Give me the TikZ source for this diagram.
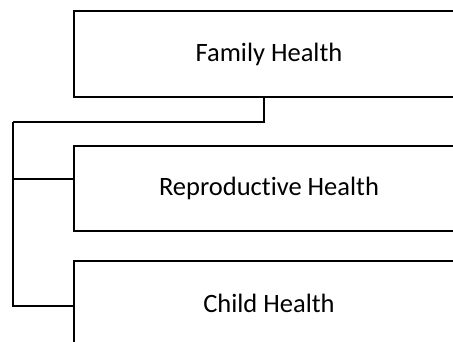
\documentclass[tikz,border=0pt]{standalone}
\usepackage{fontspec}
\setmainfont{Carlito}[Ligatures=NoCommon]
\begin{document}
\begin{tikzpicture}[x=1pt,y=-1pt,
  unitbox/.style={rectangle, minimum width=390pt, minimum height=85.5pt,
    inner sep=0pt, font=\fontsize{26.5}{30}\selectfont},
  frame/.style={draw=black, line width=2pt},
  tree/.style={draw=black, line width=2pt, line join=miter}]
  \useasboundingbox (0,0) rectangle (453,341);
  \clip (0,0) rectangle (453,341);
  % the three programme boxes (they run on past the right and bottom edges)
  \node[unitbox] (fam)   at (269,54)    {Family Health};
  \node[unitbox] (rep)   at (269,188.5) {Reproductive Health};
  \node[unitbox] (child) at (269,303.5) {Child Health};
  \foreach \b in {fam,rep,child}
    \draw[frame] (\b.south west) rectangle ([xshift=80pt]\b.north east);
  % elbow tree linking the parent box to its two branches
  \coordinate (hub) at (13,122);
  \draw[tree] ([xshift=-5pt]fam.south) |- (hub);
  \draw[tree] (hub) |- ([yshift=9.5pt]rep.west);
  \draw[tree] (hub) |- ([yshift=-2pt]child.west);
\end{tikzpicture}
\end{document}
